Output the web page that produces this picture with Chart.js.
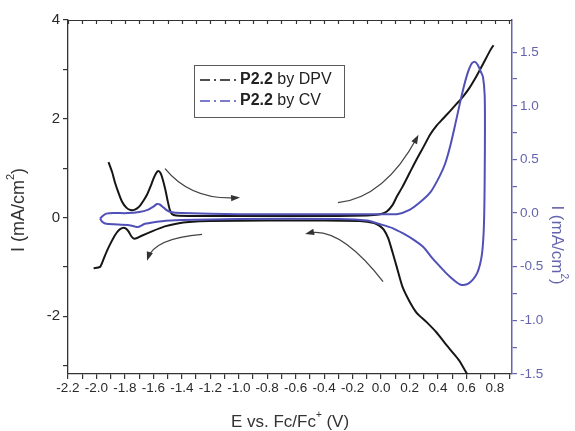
<!DOCTYPE html>
<html>
<head>
<meta charset="utf-8">
<script src="https://cdn.jsdelivr.net/npm/chart.js@4.4.1/dist/chart.umd.min.js"></script>
<style>
  html, body { margin: 0; padding: 0; background: #fff; }
  #grafico { display: block; }
</style>
</head>
<body>
<canvas id="grafico" width="575" height="431"></canvas>
<script>
// DPV - ramo de oxidação (E em V, I em mA/cm2, eixo esquerdo)
const dpvOxE = [-1.915, -1.89, -1.87, -1.845, -1.82, -1.79, -1.76, -1.73, -1.70, -1.67, -1.645, -1.62, -1.60, -1.58, -1.565,
  -1.55, -1.535, -1.515, -1.50, -1.485, -1.47, -1.44, -1.3, -1.0, -0.6, -0.3, -0.1, -0.05, 0.0, 0.04, 0.08, 0.11, 0.15,
  0.20, 0.25, 0.30, 0.345, 0.39, 0.435, 0.48, 0.53, 0.576, 0.62, 0.67, 0.72, 0.77, 0.79];
const dpvOxI = [1.12, 0.92, 0.71, 0.5, 0.32, 0.2, 0.15, 0.16, 0.22, 0.34, 0.46, 0.63, 0.78, 0.9, 0.94,
  0.9, 0.78, 0.55, 0.34, 0.16, 0.07, 0.04, 0.03, 0.03, 0.03, 0.03, 0.04, 0.05, 0.07, 0.12, 0.25, 0.42, 0.62,
  0.9, 1.18, 1.44, 1.68, 1.86, 2.0, 2.14, 2.3, 2.45, 2.62, 2.86, 3.13, 3.40, 3.49];

// DPV - ramo de redução
const dpvRedE = [0.63, 0.55, 0.505, 0.45, 0.39, 0.32, 0.25, 0.2, 0.15, 0.11, 0.08, 0.05, 0.02, -0.01, -0.05, -0.15,
  -0.4, -0.8, -1.2, -1.35, -1.43, -1.52, -1.61, -1.69, -1.71, -1.735, -1.755, -1.775, -1.795, -1.815, -1.84, -1.87,
  -1.9, -1.93, -1.955, -1.975, -2.02];
const dpvRedI = [-3.3, -2.9, -2.74, -2.55, -2.33, -2.12, -1.93, -1.7, -1.4, -1.0, -0.7, -0.42, -0.25, -0.17, -0.11, -0.07,
  -0.06, -0.06, -0.07, -0.09, -0.12, -0.18, -0.28, -0.38, -0.41, -0.43, -0.38, -0.28, -0.22, -0.21, -0.25, -0.36,
  -0.52, -0.7, -0.88, -1.0, -1.03];

// CV - ciclo fechado (eixo direito)
const cvE = [-1.975, -1.95, -1.93, -1.88, -1.78, -1.70, -1.64, -1.60, -1.575, -1.555, -1.535, -1.51, -1.48, -1.4, -1.0,
  -0.5, 0.0, 0.11, 0.2, 0.29, 0.35, 0.41, 0.45, 0.485, 0.52, 0.555, 0.58, 0.60, 0.62, 0.64, 0.66, 0.68, 0.70, 0.716,
  0.728, 0.73, 0.728, 0.725, 0.72, 0.71, 0.695, 0.675, 0.645, 0.61, 0.58, 0.555, 0.535, 0.49, 0.45, 0.415, 0.36,
  0.30, 0.23, 0.155, 0.08, 0.01, -0.1, -0.3, -1.0, -1.4, -1.54, -1.66, -1.71, -1.78, -1.93, -1.96, -1.975];
const cvI = [-0.05, -0.02, -0.005, 0.0, 0.0, 0.01, 0.03, 0.06, 0.085, 0.08, 0.06, 0.03, 0.01, 0.0, -0.01,
  -0.01, -0.01, -0.01, 0.03, 0.12, 0.2, 0.34, 0.46, 0.62, 0.82, 1.03, 1.17, 1.27, 1.35, 1.40, 1.41, 1.38, 1.32, 1.27,
  1.1, 0.8, 0.3, 0.0, -0.2, -0.37, -0.48, -0.56, -0.62, -0.66, -0.67, -0.665, -0.65, -0.6, -0.55, -0.5, -0.42,
  -0.32, -0.25, -0.19, -0.14, -0.11, -0.07, -0.055, -0.055, -0.065, -0.075, -0.1, -0.13, -0.11, -0.10, -0.08, -0.05];

// rótulos e marcas dos eixos
const rotulosE = ["-2.2", "-2.0", "-1.8", "-1.6", "-1.4", "-1.2", "-1.0", "-0.8", "-0.6", "-0.4", "-0.2", "0.0", "0.2", "0.4", "0.6", "0.8"];
const menoresE = [-2.1, -1.9, -1.7, -1.5, -1.3, -1.1, -0.9, -0.7, -0.5, -0.3, -0.1, 0.1, 0.3, 0.5, 0.7, 0.9];
const rotulosEsq = ["-2", "0", "2", "4"];
const menoresEsq = [-3, -1, 1, 3];
const rotulosDir = ["-1.5", "-1.0", "-0.5", "0.0", "0.5", "1.0", "1.5"];
const menoresDir = [-1.25, -0.75, -0.25, 0.25, 0.75, 1.25];

// setas indicando o sentido da varredura (início, meio, fim) no eixo esquerdo
const setas = [
  [[-1.518, 0.99], [-1.30, 0.52], [-1.012, 0.40]],
  [[-1.258, -0.34], [-1.52, -0.5], [-1.638, -0.82]],
  [[-0.303, 0.30], [0.0, 0.68], [0.253, 1.62]],
  [[0.014, -1.30], [-0.27, -0.49], [-0.513, -0.32]],
];

const PRETO = "#161616";
const AZUL = "#5050b8";
const AZUL_EIXO = "#6464ae";
const CINZA = "#333";
const FONTE = '"Liberation Sans", Arial, sans-serif';

const pontos = (xs, ys) => xs.map((x, i) => ({ x, y: ys[i] }));

function rotuloDe(rotulos) {
  return (valor) => {
    const r = rotulos.find(t => Math.abs(parseFloat(t) - valor) < 1e-6);
    return r === undefined ? "" : r;
  };
}

function marcas(rotulos, menores) {
  return (scale) => {
    const valores = rotulos.map(parseFloat).concat(menores).sort((a, b) => a - b);
    scale.ticks = valores.map(v => ({ value: v }));
  };
}

// escreve texto com trechos sobrescritos, centralizado em (0,0)
function textoComSobrescrito(ctx, partes, tam) {
  const fNormal = `${tam}px ${FONTE}`;
  const fSup = `${Math.round(tam * 0.6)}px ${FONTE}`;
  let total = 0;
  partes.forEach(p => { ctx.font = p.sup ? fSup : fNormal; total += ctx.measureText(p.t).width; });
  let x = -total / 2;
  ctx.textBaseline = "middle";
  ctx.textAlign = "left";
  partes.forEach(p => {
    ctx.font = p.sup ? fSup : fNormal;
    ctx.fillText(p.t, x, p.sup ? -tam * 0.42 : 0);
    x += ctx.measureText(p.t).width;
  });
}

const extras = {
  id: "extras",
  afterDatasetsDraw(chart) {
    const { ctx, scales } = chart;
    const px = v => scales.x.getPixelForValue(v);
    const py = v => scales.y.getPixelForValue(v);

    // setas curvas
    ctx.save();
    ctx.strokeStyle = "#444";
    ctx.fillStyle = "#333";
    ctx.lineWidth = 1.3;
    setas.forEach(([a, m, b]) => {
      const p0 = [px(a[0]), py(a[1])], p1 = [px(m[0]), py(m[1])], p2 = [px(b[0]), py(b[1])];
      const c = [2 * p1[0] - (p0[0] + p2[0]) / 2, 2 * p1[1] - (p0[1] + p2[1]) / 2];
      const ang = Math.atan2(p2[1] - c[1], p2[0] - c[0]);
      const tip = [p2[0] + 3 * Math.cos(ang), p2[1] + 3 * Math.sin(ang)];
      ctx.beginPath();
      ctx.moveTo(p0[0], p0[1]);
      ctx.quadraticCurveTo(c[0], c[1], p2[0], p2[1]);
      ctx.stroke();
      ctx.beginPath();
      ctx.moveTo(tip[0], tip[1]);
      ctx.lineTo(tip[0] - 9 * Math.cos(ang) + 3.2 * Math.sin(ang), tip[1] - 9 * Math.sin(ang) - 3.2 * Math.cos(ang));
      ctx.lineTo(tip[0] - 9 * Math.cos(ang) - 3.2 * Math.sin(ang), tip[1] - 9 * Math.sin(ang) + 3.2 * Math.cos(ang));
      ctx.closePath();
      ctx.fill();
    });
    ctx.restore();
  },
  afterDraw(chart) {
    const { ctx, chartArea: area, scales } = chart;
    ctx.save();

    // moldura superior com marcas internas
    ctx.strokeStyle = CINZA;
    ctx.lineWidth = 1.2;
    ctx.beginPath();
    ctx.moveTo(area.left, area.top + 0.5);
    ctx.lineTo(area.right, area.top + 0.5);
    scales.x.ticks.forEach(t => {
      const x = Math.round(scales.x.getPixelForValue(t.value)) + 0.5;
      ctx.moveTo(x, area.top);
      ctx.lineTo(x, area.top + 4);
    });
    ctx.stroke();

    // títulos dos eixos
    ctx.fillStyle = CINZA;
    ctx.save();
    ctx.translate(19, 210);
    ctx.rotate(-Math.PI / 2);
    textoComSobrescrito(ctx, [{ t: "I (mA/cm" }, { t: "2", sup: true }, { t: ")" }], 18);
    ctx.restore();

    ctx.fillStyle = AZUL_EIXO;
    ctx.save();
    ctx.translate(557, 245);
    ctx.rotate(Math.PI / 2);
    textoComSobrescrito(ctx, [{ t: "I (mA/cm" }, { t: "2", sup: true }, { t: ")" }], 17);
    ctx.restore();

    ctx.fillStyle = CINZA;
    ctx.save();
    ctx.translate(290, 422);
    textoComSobrescrito(ctx, [{ t: "E vs. Fc/Fc" }, { t: "+", sup: true }, { t: " (V)" }], 17);
    ctx.restore();

    // legenda
    ctx.strokeStyle = "#5a5a5a";
    ctx.lineWidth = 1;
    ctx.strokeRect(194.5, 65.5, 150, 52);
    const itens = [
      { cor: PRETO, nome: " by DPV", y: 80 },
      { cor: AZUL, nome: " by CV", y: 101 },
    ];
    itens.forEach(it => {
      ctx.strokeStyle = it.cor;
      ctx.lineWidth = 1.5;
      ctx.setLineDash([10, 4, 2, 4]);
      ctx.beginPath();
      ctx.moveTo(200, it.y);
      ctx.lineTo(237, it.y);
      ctx.stroke();
      ctx.setLineDash([]);
      ctx.fillStyle = "#222";
      ctx.textBaseline = "middle";
      ctx.textAlign = "left";
      ctx.font = `bold 16px ${FONTE}`;
      ctx.fillText("P2.2", 240, it.y);
      const w = ctx.measureText("P2.2").width;
      ctx.font = `16px ${FONTE}`;
      ctx.fillText(it.nome, 240 + w, it.y);
    });

    ctx.restore();
  },
};

function renderizarGrafico() {
  new Chart(document.getElementById("grafico"), {
    type: "scatter",
    data: {
      datasets: [
        {
          label: "P2.2 by CV",
          data: pontos(cvE, cvI),
          yAxisID: "y2",
          showLine: true,
          borderColor: AZUL,
          borderWidth: 2,
          pointRadius: 0,
          tension: 0.2,
        },
        {
          label: "P2.2 by DPV",
          data: pontos(dpvOxE, dpvOxI),
          yAxisID: "y",
          showLine: true,
          borderColor: PRETO,
          borderWidth: 2,
          pointRadius: 0,
          tension: 0.2,
        },
        {
          label: "P2.2 by DPV (red.)",
          data: pontos(dpvRedE, dpvRedI),
          yAxisID: "y",
          showLine: true,
          borderColor: PRETO,
          borderWidth: 2,
          pointRadius: 0,
          tension: 0.2,
        },
      ],
    },
    options: {
      responsive: false,
      animation: false,
      layout: { padding: { top: 20, left: 0, right: 0, bottom: 0 } },
      plugins: {
        legend: { display: false },
        tooltip: { enabled: false },
      },
      scales: {
        x: {
          type: "linear",
          min: -2.2,
          max: 0.92,
          afterBuildTicks: marcas(rotulosE, menoresE),
          afterFit: (s) => { s.height = 57; },
          grid: { drawOnChartArea: false, tickLength: 5, tickColor: CINZA, lineWidth: 1.2 },
          border: { color: CINZA, width: 1.3 },
          ticks: {
            autoSkip: false, maxRotation: 0, padding: 1,
            color: "#2a2a2a", font: { family: FONTE, size: 13.5 },
            callback: rotuloDe(rotulosE),
          },
        },
        y: {
          type: "linear",
          position: "left",
          min: -3.17,
          max: 4,
          afterBuildTicks: marcas(rotulosEsq, menoresEsq),
          afterFit: (s) => { s.width = 68; },
          grid: { drawOnChartArea: false, tickLength: 5, tickColor: CINZA, lineWidth: 1.2 },
          border: { color: CINZA, width: 1.3 },
          ticks: {
            autoSkip: false, padding: 3,
            color: "#2a2a2a", font: { family: FONTE, size: 15 },
            callback: rotuloDe(rotulosEsq),
          },
        },
        y2: {
          type: "linear",
          position: "right",
          min: -1.5,
          max: 1.8,
          afterBuildTicks: marcas(rotulosDir, menoresDir),
          afterFit: (s) => { s.width = 63; },
          grid: { drawOnChartArea: false, tickLength: 5, tickColor: AZUL_EIXO, lineWidth: 1.2 },
          border: { color: AZUL_EIXO, width: 1.5 },
          ticks: {
            autoSkip: false, padding: 3,
            color: AZUL_EIXO, font: { family: FONTE, size: 13.5 },
            callback: rotuloDe(rotulosDir),
          },
        },
      },
    },
    plugins: [extras],
  });
}

document.addEventListener("DOMContentLoaded", renderizarGrafico);
</script>
</body>
</html>
